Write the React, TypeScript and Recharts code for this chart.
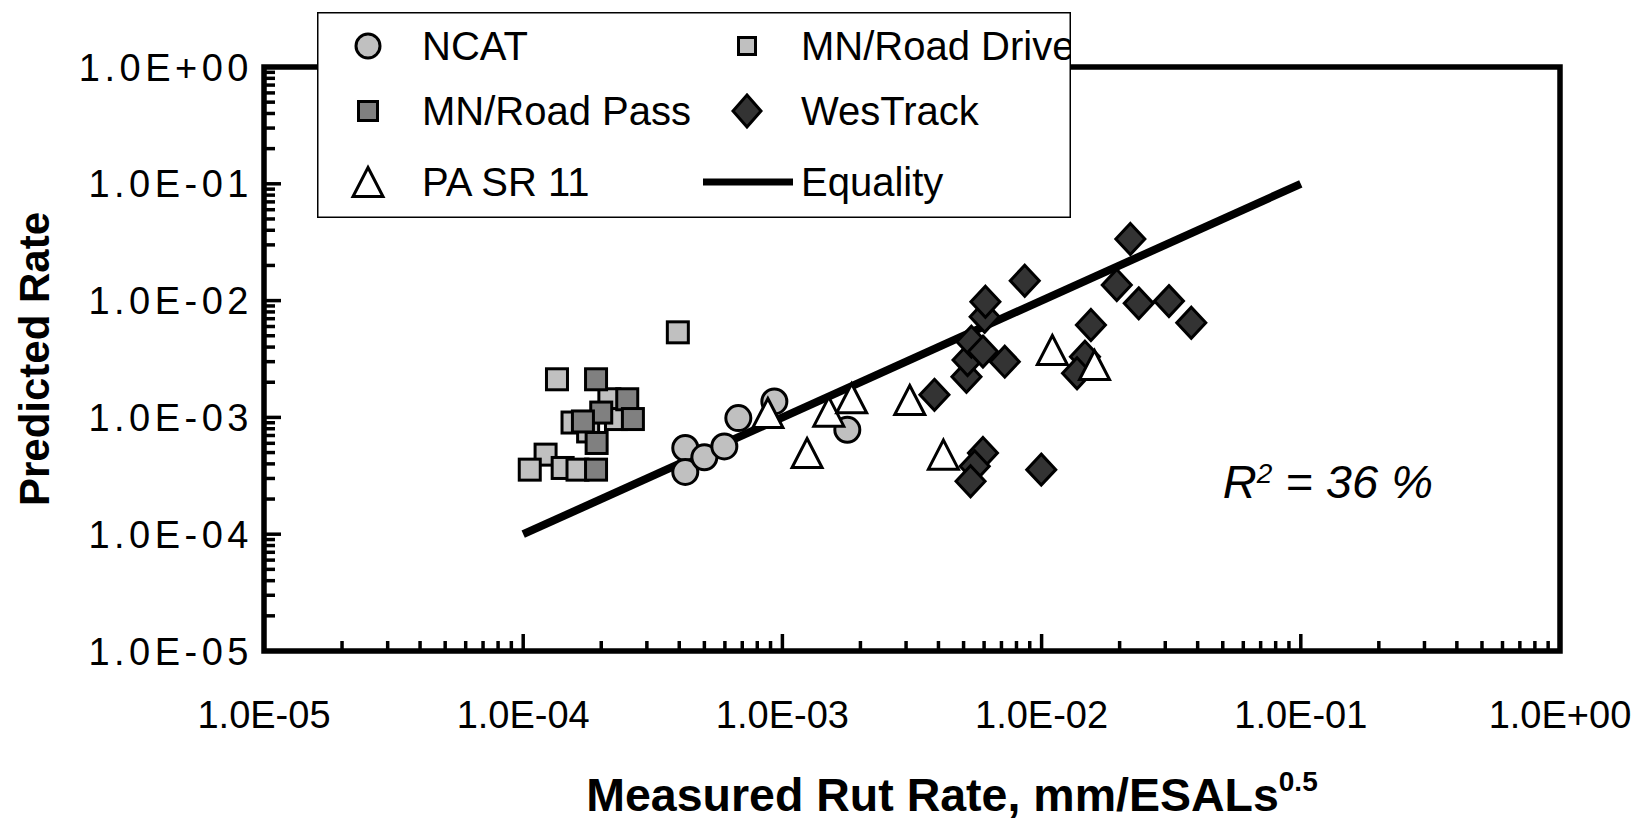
import React from "react";
import {
  ScatterChart,
  Scatter,
  XAxis,
  YAxis,
  ReferenceArea,
  ReferenceDot,
  Legend
} from "recharts";

const FONT = '"Liberation Sans", Arial, Helvetica, sans-serif';

// axis decades + minor steps (log axes, both 1E-05 .. 1E+00)
const decades = [1e-5, 1e-4, 1e-3, 1e-2, 1e-1, 1];
const decadeLabels = ["1.0E-05", "1.0E-04", "1.0E-03", "1.0E-02", "1.0E-01", "1.0E+00"];
const minorSteps = [2, 3, 4, 5, 6, 7, 8, 9];

// measured (x) vs predicted (y) rut rate
const ncat = [
  { x: 4.22e-4, y: 5.47e-4 },
  { x: 4.22e-4, y: 3.41e-4 },
  { x: 5.0e-4, y: 4.55e-4 },
  { x: 5.97e-4, y: 5.64e-4 },
  { x: 6.76e-4, y: 9.86e-4 },
  { x: 9.31e-4, y: 1.37e-3 },
  { x: 1.78e-3, y: 7.83e-4 }
];

const mnRoadDrive = [
  { x: 1.35e-4, y: 2.12e-3 },
  { x: 3.95e-4, y: 5.35e-3 },
  { x: 2.15e-4, y: 1.43e-3 },
  { x: 2.28e-4, y: 9.68e-4 },
  { x: 1.55e-4, y: 9.04e-4 },
  { x: 1.78e-4, y: 7.58e-4 },
  { x: 1.22e-4, y: 4.8e-4 },
  { x: 1.06e-4, y: 3.57e-4 },
  { x: 1.42e-4, y: 3.69e-4 },
  { x: 1.62e-4, y: 3.57e-4 }
];

const mnRoadPass = [
  { x: 1.91e-4, y: 2.12e-3 },
  { x: 2.52e-4, y: 1.43e-3 },
  { x: 2.0e-4, y: 1.1e-3 },
  { x: 2.65e-4, y: 9.68e-4 },
  { x: 1.7e-4, y: 9.23e-4 },
  { x: 1.92e-4, y: 6.04e-4 },
  { x: 1.91e-4, y: 3.57e-4 }
];

const westrack = [
  { x: 3.86e-3, y: 1.56e-3 },
  { x: 5.13e-3, y: 2.23e-3 },
  { x: 5.18e-3, y: 3.1e-3 },
  { x: 5.36e-3, y: 4.45e-3 },
  { x: 5.94e-3, y: 3.66e-3 },
  { x: 6.03e-3, y: 7.27e-3 },
  { x: 6.07e-3, y: 9.77e-3 },
  { x: 7.21e-3, y: 3.0e-3 },
  { x: 8.61e-3, y: 1.48e-2 },
  { x: 5.94e-3, y: 4.96e-4 },
  { x: 5.52e-3, y: 3.81e-4 },
  { x: 5.32e-3, y: 2.84e-4 },
  { x: 9.97e-3, y: 3.57e-4 },
  { x: 1.55e-2, y: 6.18e-3 },
  { x: 1.47e-2, y: 3.31e-3 },
  { x: 1.37e-2, y: 2.39e-3 },
  { x: 1.95e-2, y: 1.36e-2 },
  { x: 2.2e-2, y: 3.37e-2 },
  { x: 2.37e-2, y: 9.47e-3 },
  { x: 3.1e-2, y: 9.9e-3 },
  { x: 3.78e-2, y: 6.46e-3 }
];

const paSr11 = [
  { x: 8.79e-4, y: 1.09e-3 },
  { x: 1.245e-3, y: 4.96e-4 },
  { x: 1.51e-3, y: 1.12e-3 },
  { x: 1.85e-3, y: 1.46e-3 },
  { x: 3.1e-3, y: 1.41e-3 },
  { x: 4.18e-3, y: 4.8e-4 },
  { x: 1.1e-2, y: 3.78e-3 },
  { x: 1.6e-2, y: 2.81e-3 }
];

const equality = [
  { x: 1e-4, y: 1e-4 },
  { x: 1e-1, y: 1e-1 }
];

const r2Text = { x: 5e-2, y: 2.04e-4, value: "36 %" };

const axisTicks = decades.flatMap((d, i) =>
  i < decades.length - 1 ? [d, ...minorSteps.map((m) => m * d)] : [d]
);

const decadeIndex = (v: number) => decades.findIndex((d) => Math.abs(v - d) / d < 1e-6);

const XTick = (props: any) => {
  const { x, y, payload } = props;
  const i = decadeIndex(payload.value);
  const major = i >= 0;
  return (
    <g>
      <line x1={x} x2={x} y1={y} y2={y - (major ? 17 : 10)} stroke="#000" strokeWidth={3.5} />
      {major && (
        <text x={x} y={y + 77} textAnchor="middle" fontSize={38} fontFamily={FONT} fill="#000">
          {decadeLabels[i]}
        </text>
      )}
    </g>
  );
};

const YTick = (props: any) => {
  const { x, y, payload } = props;
  const i = decadeIndex(payload.value);
  const major = i >= 0;
  return (
    <g>
      <line x1={x} x2={x + (major ? 17 : 11)} y1={y} y2={y} stroke="#000" strokeWidth={3.5} />
      {major && (
        <text
          x={x - 11}
          y={y + 13.5}
          textAnchor="end"
          fontSize={38}
          letterSpacing={4.5}
          fontFamily={FONT}
          fill="#000"
        >
          {decadeLabels[i]}
        </text>
      )}
    </g>
  );
};

// title sits a bit right of the plot centre in the original
const XTitle = (props: any) => {
  const { x, y, width } = props.viewBox;
  return (
    <text x={x + width / 2 + 40} y={y + 160} textAnchor="middle" fontSize={46.5} fontWeight="bold" fontFamily={FONT} fill="#000">
      Measured Rut Rate, mm/ESALs
      <tspan fontSize={28} dy={-20}>0.5</tspan>
    </text>
  );
};

const YTitle = (props: any) => {
  const { y, height } = props.viewBox;
  const cy = y + height / 2;
  return (
    <text
      x={49}
      y={cy}
      transform={`rotate(-90 49 ${cy})`}
      textAnchor="middle"
      fontSize={42}
      fontWeight="bold"
      fontFamily={FONT}
      fill="#000"
    >
      Predicted Rate
    </text>
  );
};

// markers
const circle = (fill: string, r: number) => (p: any) =>
  <circle cx={p.cx} cy={p.cy} r={r} fill={fill} stroke="#000" strokeWidth={3} />;

const square = (fill: string, s: number) => (p: any) =>
  <rect x={p.cx - s / 2} y={p.cy - s / 2} width={s} height={s} fill={fill} stroke="#000" strokeWidth={3} />;

const diamond = (fill: string, w: number, h: number) => (p: any) =>
  <polygon
    points={`${p.cx},${p.cy - h} ${p.cx + w},${p.cy} ${p.cx},${p.cy + h} ${p.cx - w},${p.cy}`}
    fill={fill}
    stroke="#000"
    strokeWidth={3}
  />;

const triangle = (w: number, h: number) => (p: any) =>
  <polygon
    points={`${p.cx},${p.cy - h / 2} ${p.cx + w / 2},${p.cy + h / 2} ${p.cx - w / 2},${p.cy + h / 2}`}
    fill="#fff"
    stroke="#000"
    strokeWidth={3}
  />;

const R2Label = (p: any) => (
  <text x={p.cx} y={p.cy} fontSize={47} fontStyle="italic" fontFamily={FONT} fill="#000">
    R<tspan fontSize={28} dy={-15}>2</tspan>
    <tspan dy={15}>{` = ${r2Text.value}`}</tspan>
  </text>
);

const LegendBox = () => {
  const rows = [34, 99, 170];
  const c1 = 51;
  const c2 = 430;
  const t1 = 105;
  const t2 = 484;
  const txt = { fontSize: 40, fontFamily: FONT, fill: "#000" } as const;
  return (
    <svg width={754} height={206} style={{ display: "block", background: "#fff" }}>
      <rect x={0.75} y={0.75} width={752.5} height={204.5} fill="#fff" stroke="#000" strokeWidth={1.5} />
      {circle("#c0c0c0", 12)({ cx: c1, cy: rows[0] })}
      <text x={t1} y={rows[0] + 14} {...txt}>NCAT</text>
      {square("#c0c0c0", 17)({ cx: c2, cy: rows[0] })}
      <text x={t2} y={rows[0] + 14} {...txt}>MN/Road Drive</text>
      {square("#808080", 19)({ cx: c1, cy: rows[1] })}
      <text x={t1} y={rows[1] + 14} {...txt}>MN/Road Pass</text>
      {diamond("#333333", 14, 16)({ cx: c2, cy: rows[1] })}
      <text x={t2} y={rows[1] + 14} {...txt}>WesTrack</text>
      {triangle(30, 29)({ cx: c1, cy: rows[2] })}
      <text x={t1} y={rows[2] + 14} {...txt}>PA SR 11</text>
      <line x1={386} x2={476} y1={rows[2]} y2={rows[2]} stroke="#000" strokeWidth={7} />
      <text x={t2} y={rows[2] + 14} {...txt}>Equality</text>
    </svg>
  );
};

export default function App() {
  return (
    <div style={{ position: "absolute", left: 0, top: 0, width: 1651, height: 820, background: "#fff" }}>
      <ScatterChart width={1651} height={820} margin={{ top: 67, right: 91, bottom: 0, left: 0 }}>
        <XAxis
          type="number"
          dataKey="x"
          scale="log"
          domain={[1e-5, 1]}
          allowDataOverflow
          ticks={axisTicks}
          interval={0}
          tick={XTick}
          tickSize={0}
          tickMargin={0}
          tickLine={false}
          axisLine={false}
          height={169}
          label={XTitle}
        />
        <YAxis
          type="number"
          dataKey="y"
          scale="log"
          domain={[1e-5, 1]}
          allowDataOverflow
          ticks={axisTicks}
          interval={0}
          tick={YTick}
          tickSize={0}
          tickMargin={0}
          tickLine={false}
          axisLine={false}
          width={264}
          label={YTitle}
        />
        <ReferenceArea x1={1e-5} x2={1} y1={1e-5} y2={1} fill="none" stroke="#000" strokeWidth={5.5} />
        <Scatter
          name="Equality"
          data={equality}
          line={{ stroke: "#000", strokeWidth: 8 }}
          shape={() => <g />}
          isAnimationActive={false}
        />
        <Scatter name="MN/Road Drive" data={mnRoadDrive} shape={square("#c0c0c0", 21)} isAnimationActive={false} />
        <Scatter name="MN/Road Pass" data={mnRoadPass} shape={square("#808080", 21)} isAnimationActive={false} />
        <Scatter name="NCAT" data={ncat} shape={circle("#c0c0c0", 12.5)} isAnimationActive={false} />
        <Scatter name="WesTrack" data={westrack} shape={diamond("#333333", 14.5, 15.5)} isAnimationActive={false} />
        <Scatter name="PA SR 11" data={paSr11} shape={triangle(30, 29)} isAnimationActive={false} />
        <ReferenceDot x={r2Text.x} y={r2Text.y} r={0} ifOverflow="visible" shape={R2Label} />
        <Legend
          layout="vertical"
          align="center"
          verticalAlign="middle"
          content={LegendBox}
          wrapperStyle={{ left: 317, top: 12, width: 754, height: 206 }}
        />
      </ScatterChart>
    </div>
  );
}
